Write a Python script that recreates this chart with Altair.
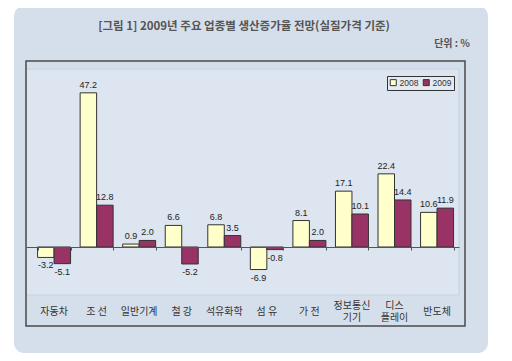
import altair as alt
import pandas as pd

categories = ["자동차", "조 선", "일반기계", "철 강", "석유화학", "섬 유", "가 전",
              "정보통신\n기기", "디스\n플레이", "반도체"]
values_2008 = [-3.2, 47.2, 0.9, 6.6, 6.8, -6.9, 8.1, 17.1, 22.4, 10.6]
values_2009 = [-5.1, 12.8, 2.0, -5.2, 3.5, -0.8, 2.0, 10.1, 14.4, 11.9]
years = ["2008", "2009"]
colors = ["#ffffcc", "#993366"]
title_text = "[그림 1] 2009년 주요 업종별 생산증가율 전망(실질가격 기준)"
unit_text = "단위 : %"

rows = []
for c, a, b in zip(categories, values_2008, values_2009):
    rows.append({"cat": c, "year": "2008", "v": a, "lab": f"{a:.1f}"})
    rows.append({"cat": c, "year": "2009", "v": b, "lab": f"{b:.1f}"})
df = pd.DataFrame(rows)
catdf = pd.DataFrame({"cat": categories})

W, H = 433, 226
KFONT = "Noto Sans CJK KR"
NFONT = "Liberation Sans"

xscale = alt.Scale(paddingInner=0.225, paddingOuter=0.2, align=0.68)
yscale = alt.Scale(domain=[-14.7, 54.5], nice=False, zero=False)
offscale = alt.Scale(paddingInner=0, paddingOuter=0)

one = pd.DataFrame({"d": [0]})

panel = alt.Chart(one).mark_rect(fill="#d5dfeb", cornerRadius=10).encode(
    x=alt.value(-12), x2=alt.value(462), y=alt.value(-63), y2=alt.value(284))
plotbg = alt.Chart(one).mark_rect(fill="#dce5f0", stroke="#c6d1de", strokeWidth=1).encode(
    x=alt.value(0), x2=alt.value(W), y=alt.value(0), y2=alt.value(H))
box = alt.Chart(one).mark_rect(fill=None, stroke="#4a4a4a", strokeWidth=1.5).encode(
    x=alt.value(0), x2=alt.value(439), y=alt.value(-8), y2=alt.value(257))
title = alt.Chart(one).mark_text(
    text=title_text, font=KFONT, fontSize=11.5, fontWeight="bold", color="#555555",
    align="center", baseline="middle").encode(x=alt.value(218), y=alt.value(-42))
unit = alt.Chart(one).mark_text(
    text=unit_text, font=KFONT, fontSize=10, fontWeight="bold", color="#555555",
    align="right", baseline="middle").encode(x=alt.value(444), y=alt.value(-25))

bars = alt.Chart(df).mark_bar(stroke="#333333", strokeWidth=1).encode(
    x=alt.X("cat:N", sort=categories, scale=xscale,
            axis=alt.Axis(orient="bottom", offset=-48, labels=False, title=None,
                          domain=True, domainColor="#555555", ticks=True,
                          tickBand="extent", tickSize=3, tickColor="#555555",
                          grid=False, zindex=1)),
    xOffset=alt.XOffset("year:N", sort=years, scale=offscale),
    y=alt.Y("v:Q", scale=yscale, axis=None),
    y2=alt.datum(0),
    fill=alt.Fill("year:N", sort=years, scale=alt.Scale(domain=years, range=colors),
                  legend=alt.Legend(title=None, orient="none", legendX=361, legendY=7,
                                    direction="horizontal", symbolType="square",
                                    symbolSize=36, symbolStrokeColor="#333333",
                                    symbolStrokeWidth=1, labelFont=NFONT, labelFontSize=8.5,
                                    labelColor="#333333", strokeColor="#333333",
                                    fillColor="#e4eaf2", padding=2, columnPadding=2,
                                    labelOffset=2)),
)

catbase = alt.Chart(catdf).encode(
    x=alt.X("cat:N", sort=categories, scale=xscale, axis=None),
    text="cat:N",
)
cat_single = catbase.transform_filter("indexof(datum.cat, '\\n') < 0").mark_text(
    font=KFONT, fontSize=10, color="#333333", baseline="middle", align="center"
).encode(y=alt.value(H + 17))
cat_multi = catbase.transform_filter("indexof(datum.cat, '\\n') >= 0").mark_text(
    font=KFONT, fontSize=10, color="#333333", lineBreak="\n", lineHeight=12,
    baseline="middle", align="center"
).encode(y=alt.value(H + 11))

textbase = alt.Chart(df).encode(
    x=alt.X("cat:N", sort=categories, scale=xscale, axis=None),
    xOffset=alt.XOffset("year:N", sort=years, scale=offscale),
    y=alt.Y("v:Q", scale=yscale, axis=None),
    text="lab:N",
)
pos_text = textbase.transform_filter("datum.v >= 0").mark_text(
    font=NFONT, fontSize=9, color="#222222", baseline="middle", dy=-8)
neg_text = textbase.transform_filter("datum.v < 0").mark_text(
    font=NFONT, fontSize=9, color="#222222", baseline="middle", dy=8)

chart = alt.layer(panel, plotbg, box, title, unit, bars, cat_single, cat_multi,
                  pos_text, neg_text).resolve_axis(
    x="independent"
).properties(
    width=W, height=H,
    autosize=alt.AutoSizeParams(type="none"),
    padding={"left": 18, "top": 61, "right": 37, "bottom": 60},
    background="white",
).configure_view(stroke=None)

chart.save("out.html", embed_options={"renderer": "svg", "actions": False})
